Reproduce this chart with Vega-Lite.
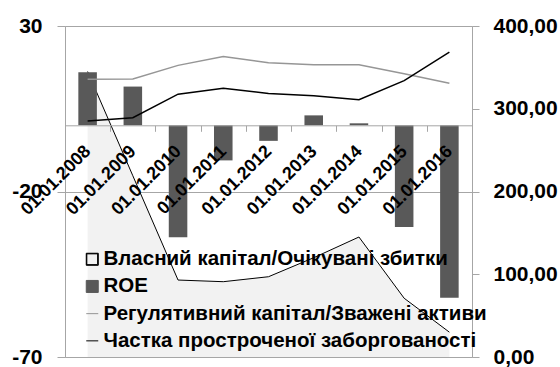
{
  "$schema": "https://vega.github.io/schema/vega-lite/v6.json",
  "width": 407,
  "height": 331,
  "autosize": "none",
  "padding": {"left": 65, "top": 26, "right": 88, "bottom": 10},
  "background": "white",
  "config": {
    "font": "Liberation Sans",
    "view": {"stroke": "#a6a6a6", "strokeWidth": 1},
    "axis": {"labelFont": "Liberation Sans", "labelFontWeight": "bold", "labelColor": "#000000"},
    "legend": {
      "labelFont": "Liberation Sans",
      "labelFontSize": 20.5,
      "labelFontWeight": "bold",
      "labelColor": "#000000",
      "labelLimit": 600,
      "labelOffset": 1,
      "symbolSize": 144,
      "rowPadding": 6.2,
      "padding": 0
    }
  },
  "data": {
    "values": [
      {"date": "01.01.2008", "series": "Власний капітал/Очікувані збитки", "value": 345},
      {"date": "01.01.2009", "series": "Власний капітал/Очікувані збитки", "value": 219},
      {"date": "01.01.2010", "series": "Власний капітал/Очікувані збитки", "value": 93},
      {"date": "01.01.2011", "series": "Власний капітал/Очікувані збитки", "value": 91},
      {"date": "01.01.2012", "series": "Власний капітал/Очікувані збитки", "value": 97},
      {"date": "01.01.2013", "series": "Власний капітал/Очікувані збитки", "value": 120},
      {"date": "01.01.2014", "series": "Власний капітал/Очікувані збитки", "value": 145},
      {"date": "01.01.2015", "series": "Власний капітал/Очікувані збитки", "value": 71},
      {"date": "01.01.2016", "series": "Власний капітал/Очікувані збитки", "value": 30},
      {"date": "01.01.2008", "series": "ROE", "value": 16.0},
      {"date": "01.01.2009", "series": "ROE", "value": 11.7},
      {"date": "01.01.2010", "series": "ROE", "value": -33.8},
      {"date": "01.01.2011", "series": "ROE", "value": -10.6},
      {"date": "01.01.2012", "series": "ROE", "value": -4.7},
      {"date": "01.01.2013", "series": "ROE", "value": 3.0},
      {"date": "01.01.2014", "series": "ROE", "value": 0.6},
      {"date": "01.01.2015", "series": "ROE", "value": -30.7},
      {"date": "01.01.2016", "series": "ROE", "value": -52.1},
      {"date": "01.01.2008", "series": "Регулятивний капітал/Зважені активи", "value": 13.9},
      {"date": "01.01.2009", "series": "Регулятивний капітал/Зважені активи", "value": 14.0},
      {"date": "01.01.2010", "series": "Регулятивний капітал/Зважені активи", "value": 18.1},
      {"date": "01.01.2011", "series": "Регулятивний капітал/Зважені активи", "value": 20.8},
      {"date": "01.01.2012", "series": "Регулятивний капітал/Зважені активи", "value": 18.9},
      {"date": "01.01.2013", "series": "Регулятивний капітал/Зважені активи", "value": 18.3},
      {"date": "01.01.2014", "series": "Регулятивний капітал/Зважені активи", "value": 18.3},
      {"date": "01.01.2015", "series": "Регулятивний капітал/Зважені активи", "value": 15.6},
      {"date": "01.01.2016", "series": "Регулятивний капітал/Зважені активи", "value": 12.7},
      {"date": "01.01.2008", "series": "Частка простроченої заборгованості", "value": 1.3},
      {"date": "01.01.2009", "series": "Частка простроченої заборгованості", "value": 2.3},
      {"date": "01.01.2010", "series": "Частка простроченої заборгованості", "value": 9.4},
      {"date": "01.01.2011", "series": "Частка простроченої заборгованості", "value": 11.2},
      {"date": "01.01.2012", "series": "Частка простроченої заборгованості", "value": 9.6},
      {"date": "01.01.2013", "series": "Частка простроченої заборгованості", "value": 8.9},
      {"date": "01.01.2014", "series": "Частка простроченої заборгованості", "value": 7.7},
      {"date": "01.01.2015", "series": "Частка простроченої заборгованості", "value": 13.5},
      {"date": "01.01.2016", "series": "Частка простроченої заборгованості", "value": 22.1}
    ]
  },
  "encoding": {
    "x": {
      "field": "date",
      "type": "ordinal",
      "scale": {"paddingInner": 0, "paddingOuter": 0},
      "axis": {
        "title": null,
        "offset": -231.7,
        "labelAngle": -45,
        "labelAlign": "right",
        "labelBaseline": "middle",
        "labelFontSize": 18,
        "labelPadding": 17,
        "tickBand": "extent",
        "tickSize": 6,
        "tickColor": "#a6a6a6",
        "domainColor": "#a6a6a6",
        "labelOverlap": false,
        "labelBound": false,
        "grid": false,
        "zindex": 1
      }
    }
  },
  "layer": [
    {
      "layer": [
        {
          "transform": [{"filter": "datum.series === 'Власний капітал/Очікувані збитки'"}],
          "mark": {"type": "area", "opacity": 1, "fill": "#f2f2f2"},
          "encoding": {
            "y": {
              "field": "value",
              "type": "quantitative",
              "scale": {"domain": [0, 400], "nice": false},
              "axis": {
                "title": null,
                "orient": "right",
                "values": [0, 100, 200, 300, 400],
                "grid": false,
                "domain": false,
                "tickSize": 7,
                "tickColor": "#a6a6a6",
                "labelPadding": 14,
                "labelFontSize": 21,
                "labelExpr": "replace(format(datum.value, '.2f'), '.', ',')"
              }
            }
          }
        },
        {
          "transform": [{"filter": "datum.series === 'Власний капітал/Очікувані збитки'"}],
          "mark": {"type": "line", "color": "#000000", "strokeWidth": 1},
          "encoding": {
            "y": {"field": "value", "type": "quantitative"}
          }
        }
      ]
    },
    {
      "layer": [
        {
          "transform": [{"filter": "datum.series === 'ROE'"}],
          "mark": {"type": "bar", "width": {"band": 0.41}},
          "encoding": {
            "y": {
              "field": "value",
              "type": "quantitative",
              "scale": {"domain": [-70, 30], "nice": false},
              "axis": {
                "title": null,
                "orient": "left",
                "values": [30, -20, -70],
                "grid": true,
                "gridColor": "#a6a6a6",
                "domain": false,
                "tickSize": 8,
                "tickColor": "#a6a6a6",
                "labelPadding": 15,
                "labelFontSize": 21,
                "labelExpr": "'' + datum.value"
              }
            },
            "color": {
              "field": "series",
              "type": "nominal",
              "scale": {
                "domain": ["Власний капітал/Очікувані збитки", "ROE", "Регулятивний капітал/Зважені активи", "Частка простроченої заборгованості"],
                "range": ["#000000", "#595959", "#969696", "#000000"]
              },
              "legend": {
                "title": null, "orient": "none", "legendX": 17, "legendY": 223, "direction": "vertical",
                "encode": {"symbols": {"update": {
                  "shape": {"signal": "datum.value === 'ROE' ? 'square' : datum.value === 'Власний капітал/Очікувані збитки' ? 'M-1,-1H1V1H-1ZM-0.9,-0.9V0.9H0.9V-0.9Z' : 'stroke'"},
                  "strokeWidth": {"value": 1}
                }}}
              }
            }
          }
        },
        {
          "transform": [{"filter": "datum.series === 'Регулятивний капітал/Зважені активи'"}],
          "mark": {"type": "line", "strokeWidth": 1.5},
          "encoding": {
            "y": {"field": "value", "type": "quantitative"},
            "color": {
              "field": "series", "type": "nominal",
              "legend": {
                "title": null, "orient": "none", "legendX": 17, "legendY": 223, "direction": "vertical",
                "encode": {"symbols": {"update": {
                  "shape": {"signal": "datum.value === 'ROE' ? 'square' : datum.value === 'Власний капітал/Очікувані збитки' ? 'M-1,-1H1V1H-1ZM-0.9,-0.9V0.9H0.9V-0.9Z' : 'stroke'"},
                  "strokeWidth": {"value": 1}
                }}}
              }
            }
          }
        },
        {
          "transform": [{"filter": "datum.series === 'Частка простроченої заборгованості'"}],
          "mark": {"type": "line", "strokeWidth": 1.5},
          "encoding": {
            "y": {"field": "value", "type": "quantitative"},
            "color": {
              "field": "series", "type": "nominal",
              "legend": {
                "title": null, "orient": "none", "legendX": 17, "legendY": 223, "direction": "vertical",
                "encode": {"symbols": {"update": {
                  "shape": {"signal": "datum.value === 'ROE' ? 'square' : datum.value === 'Власний капітал/Очікувані збитки' ? 'M-1,-1H1V1H-1ZM-0.9,-0.9V0.9H0.9V-0.9Z' : 'stroke'"},
                  "strokeWidth": {"value": 1}
                }}}
              }
            }
          }
        }
      ]
    }
  ],
  "resolve": {"scale": {"y": "independent"}}
}
